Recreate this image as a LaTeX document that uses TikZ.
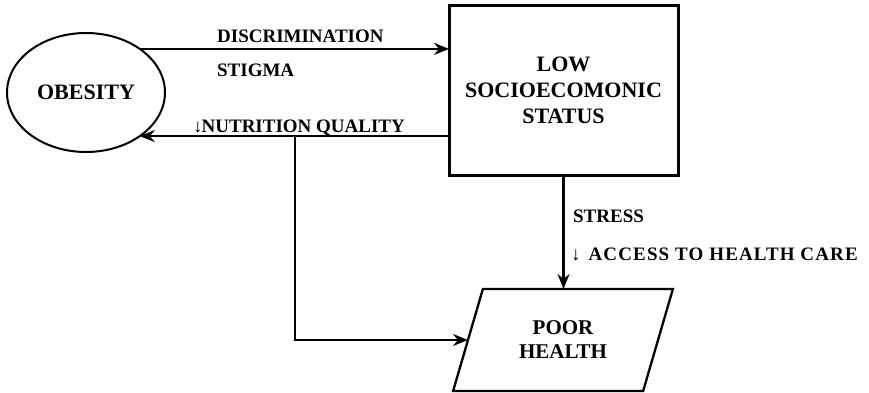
\documentclass[tikz,border=0pt]{standalone}
\usepackage{fontspec}
\setmainfont{Liberation Serif}
\usetikzlibrary{shapes.geometric,arrows.meta}
\begin{document}
\begin{tikzpicture}[x=1pt,y=-1pt, line width=2.3pt,
  arr/.style={-{Stealth[length=15pt,width=12pt,inset=5pt]}},
  lbl/.style={anchor=base west, inner sep=0pt, font=\bfseries\fontsize{19}{22}\selectfont},
  bigtext/.style={align=center, font=\bfseries\fontsize{22}{26}\selectfont}]
\useasboundingbox (0,0) rectangle (869,393);
\node[ellipse, draw, line width=2pt, minimum width=158, minimum height=119, inner sep=0pt, outer sep=0pt, bigtext] (obesity) at (86,92.5) {OBESITY};
\node[draw, line width=3pt, minimum width=229, minimum height=169, inner sep=0pt, outer sep=0pt, bigtext] (ses) at (563.5,90.5) {LOW\\SOCIOECOMONIC\\STATUS};
\node[trapezium, trapezium stretches=true, trapezium left angle=66.7, trapezium right angle=113.3, minimum width=220, minimum height=102, inner sep=0pt, outer sep=0pt, draw, align=center, font=\bfseries\fontsize{21}{24}\selectfont] (poor) at (563,340) {POOR\\HEALTH};
\coordinate (brx) at (295,0);
\draw[arr] (obesity.39) -- (obesity.39 -| ses.west);
\draw[arr] (obesity.-39 -| ses.west) -- (obesity.-39);
\draw[arr] (brx |- obesity.-39) |- (poor.left side);
\draw[arr] (ses.south) -- (ses.south |- poor.top side);
\node[lbl] (disc) at (216,43) {DISCRIMINATION};
\node[lbl] (stig) at (216,77) {STIGMA};
\node[lbl] (nutr) at (192,132) {\textmd{↓}\hspace{-1pt}NUTRITION QUALITY};
\node[lbl] (stress) at (572,222) {STRESS};
\node[lbl] (access) at (570,260) {\textmd{↓}\hspace{8pt}{\addfontfeature{LetterSpace=6}ACCESS TO HEALTH CARE}};
\end{tikzpicture}
\end{document}
